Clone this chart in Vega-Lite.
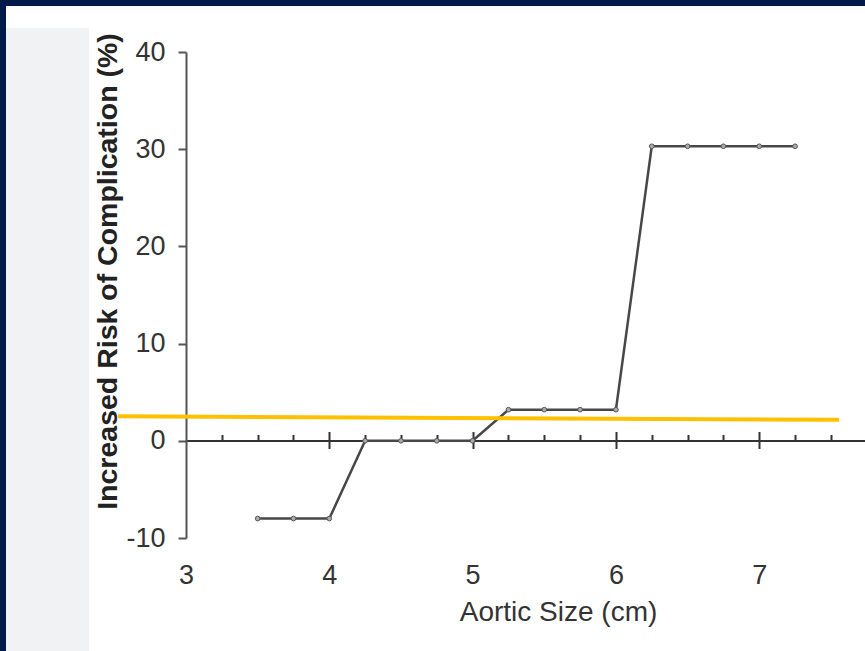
{
  "$schema": "https://vega.github.io/schema/vega-lite/v6.json",
  "width": 679,
  "height": 486,
  "autosize": {"type": "none"},
  "padding": {"left": 186, "top": 52, "right": 0, "bottom": 113},
  "background": "white",
  "config": {
    "view": {"stroke": null},
    "font": "Liberation Sans",
    "axisY": {
      "grid": false, "domainColor": "#555", "domainWidth": 2,
      "tickColor": "#555", "tickWidth": 2, "tickSize": 8, "labelFontSize": 27, "labelColor": "#333",
      "labelPadding": 13, "titleFontSize": 28.5,
      "titleFontWeight": "bold", "titleColor": "#222", "titlePadding": 3.5, "titleY": 219
    }
  },
  "datasets": {
    "risk": [
      {"size": 3.5, "risk": -8},
      {"size": 3.75, "risk": -8},
      {"size": 4.0, "risk": -8},
      {"size": 4.25, "risk": 0},
      {"size": 4.5, "risk": 0},
      {"size": 4.75, "risk": 0},
      {"size": 5.0, "risk": 0},
      {"size": 5.25, "risk": 3.2},
      {"size": 5.5, "risk": 3.2},
      {"size": 5.75, "risk": 3.2},
      {"size": 6.0, "risk": 3.2},
      {"size": 6.25, "risk": 30.3},
      {"size": 6.5, "risk": 30.3},
      {"size": 6.75, "risk": 30.3},
      {"size": 7.0, "risk": 30.3},
      {"size": 7.25, "risk": 30.3}
    ],
    "panels": [
      {"part": "gray", "x1": 1.744, "x2": 2.323, "y1": -21.7, "y2": 42.47},
      {"part": "navy", "x1": 1.70, "x2": 7.74, "y1": 44.73, "y2": 45.4},
      {"part": "navy", "x1": 1.70, "x2": 1.744, "y1": -21.7, "y2": 45.4}
    ],
    "threshold": [
      {"x1": 2.525, "y1": 2.52, "x2": 7.557, "y2": 2.16}
    ]
  },
  "resolve": {"axis": {"x": "independent"}},
  "layer": [
    {
      "data": {"name": "panels"},
      "mark": {"type": "rect", "clip": false},
      "encoding": {
        "x": {"field": "x1", "type": "quantitative", "scale": {"domain": [3, 7.738], "nice": false, "zero": false}, "axis": null},
        "x2": {"field": "x2"},
        "y": {
          "field": "y1", "type": "quantitative",
          "scale": {"domain": [-10, 40], "nice": false, "zero": false},
          "axis": {"title": "Increased Risk of Complication (%)", "values": [-10, 0, 10, 20, 30, 40], "labelExpr": "'' + datum.value"}
        },
        "y2": {"field": "y2"},
        "color": {"field": "part", "type": "nominal", "scale": {"domain": ["gray", "navy"], "range": ["#f1f2f4", "#001a4a"]}, "legend": null}
      }
    },
    {
      "data": {"name": "risk"},
      "mark": {"type": "line", "color": "#474747", "strokeWidth": 2.5},
      "encoding": {
        "x": {
          "field": "size", "type": "quantitative",
          "scale": {"domain": [3, 7.738], "nice": false, "zero": false},
          "axis": {
            "orient": "bottom", "values": [3, 4, 5, 6, 7], "domain": false, "ticks": false, "tickSize": 0,
            "grid": false, "labelFontSize": 27, "labelColor": "#333", "labelPadding": 24, "labelFlush": false,
            "title": "Aortic Size (cm)", "titleFontSize": 28, "titleFontWeight": "normal", "titleColor": "#333",
            "titlePadding": 10, "titleX": 372
          }
        },
        "y": {
          "field": "risk", "type": "quantitative",
          "scale": {"domain": [-10, 40], "nice": false, "zero": false},
          "axis": {"title": "Increased Risk of Complication (%)", "values": [-10, 0, 10, 20, 30, 40], "labelExpr": "'' + datum.value"}
        }
      }
    },
    {
      "data": {"name": "risk"},
      "mark": {"type": "point", "shape": "circle", "filled": true, "fill": "#aaa", "stroke": "#555", "strokeWidth": 1, "size": 22, "opacity": 1},
      "encoding": {
        "x": {
          "field": "size", "type": "quantitative",
          "scale": {"domain": [3, 7.738], "nice": false, "zero": false},
          "axis": {
            "orient": "top", "offset": -388.5,
            "values": [3.25, 3.5, 3.75, 4, 4.25, 4.5, 4.75, 5, 5.25, 5.5, 5.75, 6, 6.25, 6.5, 6.75, 7, 7.25, 7.5],
            "domainColor": "#333", "domainWidth": 2, "tickColor": "#333", "tickWidth": 2,
            "tickSize": {"condition": {"test": "datum.value % 1 === 0", "value": 9}, "value": 6},
            "labels": false, "title": null, "grid": false
          }
        },
        "y": {
          "field": "risk", "type": "quantitative",
          "scale": {"domain": [-10, 40], "nice": false, "zero": false},
          "axis": {"title": "Increased Risk of Complication (%)", "values": [-10, 0, 10, 20, 30, 40], "labelExpr": "'' + datum.value"}
        }
      }
    },
    {
      "data": {"name": "threshold"},
      "mark": {"type": "rule", "color": "#ffc000", "strokeWidth": 4, "clip": false},
      "encoding": {
        "x": {
          "field": "x1", "type": "quantitative",
          "scale": {"domain": [3, 7.738], "nice": false, "zero": false},
          "axis": {
            "orient": "bottom", "offset": -97.5, "values": [4, 5, 6, 7],
            "domain": false, "tickColor": "#333", "tickWidth": 2, "tickSize": 8,
            "labels": false, "title": null, "grid": false
          }
        },
        "x2": {"field": "x2"},
        "y": {
          "field": "y1", "type": "quantitative",
          "scale": {"domain": [-10, 40], "nice": false, "zero": false},
          "axis": {"title": "Increased Risk of Complication (%)", "values": [-10, 0, 10, 20, 30, 40], "labelExpr": "'' + datum.value"}
        },
        "y2": {"field": "y2"}
      }
    }
  ]
}
